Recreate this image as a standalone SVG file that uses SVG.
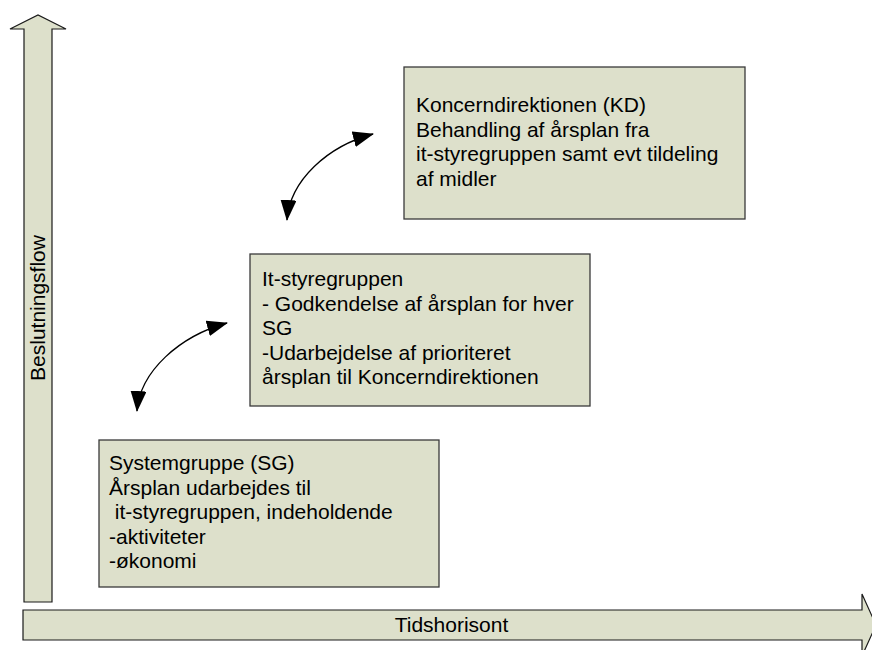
<svg xmlns="http://www.w3.org/2000/svg" width="872" height="650" viewBox="0 0 872 650">
  <style>
    .box { fill: #dde0cb; stroke: #3a3a3a; stroke-width: 1.3; }
    .axis { fill: #dde0cb; stroke: #1a1a1a; stroke-width: 1.2; stroke-linejoin: miter; }
    .t { font-family: "Liberation Sans", Arial, sans-serif; font-size: 21px; fill: #000; white-space: pre; }
    .conn { fill: none; stroke: #000; stroke-width: 1.3; }
  </style>
  <defs>
    <marker id="ah" viewBox="0 0 21 16" refX="20" refY="8" markerWidth="21" markerHeight="16" markerUnits="userSpaceOnUse" orient="auto-start-reverse">
      <path d="M0,0 L21,8 L0,16 z" fill="#000"/>
    </marker>
  </defs>
  <rect width="872" height="650" fill="#fff"/>

  <g id="axis-vertical">
    <polygon class="axis" points="24,602 24,29 10,29 38,15 66,29 52,29 52,602"/>
    <text class="t" transform="translate(45,308) rotate(-90)" text-anchor="middle">Beslutningsflow</text>
  </g>

  <g id="axis-horizontal">
    <polygon class="axis" points="23,610 862,610 862,594 876,625 862,656 862,640 23,640"/>
    <text class="t" x="451.5" y="632" text-anchor="middle">Tidshorisont</text>
  </g>

  <g id="node-kd">
    <rect class="box" x="404" y="67" width="341" height="152"/>
    <text class="t" x="416" y="112">Koncerndirektionen (KD)</text>
    <text class="t" x="416" y="136.5">Behandling af årsplan fra</text>
    <text class="t" x="416" y="161">it-styregruppen samt evt tildeling</text>
    <text class="t" x="416" y="185.5">af midler</text>
  </g>

  <g id="node-it">
    <rect class="box" x="250" y="254" width="340" height="152"/>
    <text class="t" x="262" y="286">It-styregruppen</text>
    <text class="t" x="262" y="310.5">- Godkendelse af årsplan for hver</text>
    <text class="t" x="262" y="335">SG</text>
    <text class="t" x="262" y="359.5">-Udarbejdelse af prioriteret</text>
    <text class="t" x="262" y="384">årsplan til Koncerndirektionen</text>
  </g>

  <g id="node-sg">
    <rect class="box" x="99" y="440" width="340" height="147"/>
    <text class="t" x="109" y="470">Systemgruppe (SG)</text>
    <text class="t" x="109" y="494.5">Årsplan udarbejdes til</text>
    <text class="t" x="109" y="519"> it-styregruppen, indeholdende</text>
    <text class="t" x="109" y="543.5">-aktiviteter</text>
    <text class="t" x="109" y="568">-økonomi</text>
  </g>

  <g id="connectors">
    <path class="conn" d="M287,220 C290,180 328,146 373,134" marker-start="url(#ah)" marker-end="url(#ah)"/>
    <path class="conn" d="M137,411 C140,371 180,336 227,323" marker-start="url(#ah)" marker-end="url(#ah)"/>
  </g>
</svg>
